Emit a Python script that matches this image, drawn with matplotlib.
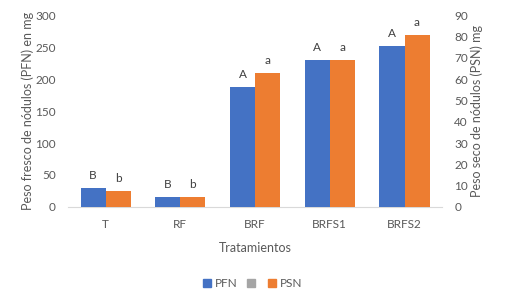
import numpy as np
import matplotlib.pyplot as plt
from matplotlib.patches import Patch

plt.rcParams['font.family'] = ['Lato', 'DejaVu Sans']

categories = ['T', 'RF', 'BRF', 'BRFS1', 'BRFS2']
pfn = [30, 16, 188, 230, 252]        # left axis, mg
psn = [7.5, 4.8, 63, 69, 80.5]       # right axis, mg
pfn_letters = ['B', 'B', 'A', 'A', 'A']
psn_letters = ['b', 'b', 'a', 'a', 'a']

blue = '#4472C4'
orange = '#ED7D31'
grey_txt = '#595959'

fig = plt.figure(figsize=(5.05, 3.03), dpi=100)
ax = fig.add_axes([0.135, 0.317, 0.74, 0.633])
ax2 = ax.twinx()

x = np.arange(len(categories))
w = 0.335
b1 = ax.bar(x - w / 2, pfn, w, color=blue, zorder=3)
b2 = ax2.bar(x + w / 2, psn, w, color=orange, zorder=3)

for rect, lab in zip(b1, pfn_letters):
    ax.annotate(lab, (rect.get_x() + rect.get_width() / 2, rect.get_height()),
                xytext=(0, 5), textcoords='offset points', ha='center', va='bottom',
                fontsize=8.5, color='#404040')
for rect, lab in zip(b2, psn_letters):
    ax2.annotate(lab, (rect.get_x() + rect.get_width() / 2, rect.get_height()),
                 xytext=(0, 5), textcoords='offset points', ha='center', va='bottom',
                 fontsize=8.5, color='#404040')

ax.set_xlim(-0.5, 4.5)
ax.set_ylim(0, 300)
ax2.set_ylim(0, 90)
ax.set_yticks(np.arange(0, 301, 50))
ax2.set_yticks(np.arange(0, 91, 10))
ax.set_xticks(x)
ax.set_xticklabels(categories)

for a in (ax, ax2):
    for s in a.spines.values():
        s.set_visible(False)
    a.tick_params(length=0, labelsize=8.5, colors=grey_txt)
ax.spines['bottom'].set_visible(True)
ax.spines['bottom'].set_color('#d9d9d9')
ax.tick_params(axis='x', pad=9)
ax.tick_params(axis='y', pad=9)
ax2.tick_params(axis='y', pad=9)

ax.set_ylabel('Peso fresco de nódulos (PFN) en mg', fontsize=9, color=grey_txt, labelpad=1)
ax2.set_ylabel('Peso seco de nódulos (PSN) mg', fontsize=9, color=grey_txt, labelpad=2)
ax.set_xlabel('Tratamientos', fontsize=9, color=grey_txt, labelpad=8)

handles = [Patch(color=blue), Patch(color='#A5A5A5'), Patch(color=orange)]
fig.legend(handles, ['PFN', '', 'PSN'], loc='center', bbox_to_anchor=(0.5, 0.065),
           ncol=3, frameon=False, fontsize=8.5, labelcolor=grey_txt,
           handlelength=0.7, handleheight=0.7, handletextpad=0.3, columnspacing=0.8)

fig.savefig('out.png', dpi=100)
